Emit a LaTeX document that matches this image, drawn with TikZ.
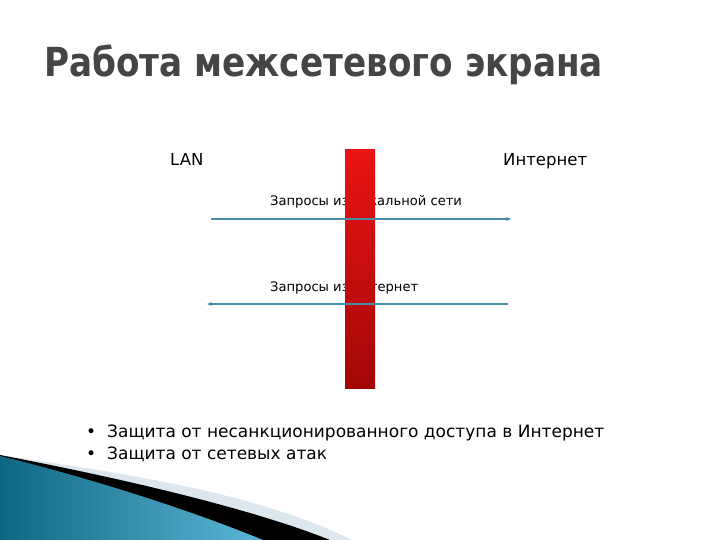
\documentclass[tikz,border=0pt]{standalone}
\usepackage{fontspec}
\usepackage{graphicx}
\setmainfont{DejaVu Sans}
\usetikzlibrary{arrows.meta}
\definecolor{titlegray}{HTML}{454545}
\definecolor{arrowblue}{HTML}{4A8EA6}
\definecolor{wallred}{HTML}{EA1414}
\definecolor{walldark}{HTML}{A20606}
\definecolor{swooshdark}{HTML}{0E6782}
\definecolor{swooshlight}{HTML}{5CB6D6}
\definecolor{swooshpale}{HTML}{DDE8EE}
\tikzset{
  label text/.style={anchor=base west,inner sep=0,font=\fontsize{16.5}{20}\selectfont},
  bullet text/.style={anchor=base west,inner sep=0,font=\fontsize{17}{20}\selectfont},
  query text/.style={anchor=base west,inner sep=0,font=\fontsize{13.1}{15}\selectfont},
  flow/.style={color=arrowblue,line width=1.2pt,-{Stealth[length=5pt,width=4pt]}}
}
\begin{document}
\begin{tikzpicture}[x=1pt,y=-1pt]
  \useasboundingbox (0,0) rectangle (720,540);
  \fill[white] (0,0) rectangle (720,540);
  % title
  \node[anchor=base west,inner sep=0,color=titlegray,
        font=\fontsize{40}{48}\selectfont\bfseries] (title) at (44,77)
        {\scalebox{0.856}[1]{Работа межсетевого экрана}};
  % sides
  \node[label text] (lan) at (170,166) {LAN};
  \node[label text] (inet) at (503,166) {Интернет};
  % request labels (behind the wall)
  \node[query text] (outq) at (270,206) {Запросы из локальной сети};
  \node[query text] (inq) at (270,291) {Запросы из интернет};
  % the wall
  \shade[top color=wallred,bottom color=walldark] (345,150) rectangle (375,388);
  % request arrows
  \coordinate (outa) at (211,219);
  \coordinate (outb) at (511,219);
  \coordinate (ina) at (508,304);
  \coordinate (inb) at (207,304);
  \draw[flow] (outa) -- (outb);
  \draw[flow] (ina) -- (inb);
  % bullets
  \node[bullet text] (b1) at (86,437) {•\hspace{11pt}Защита от несанкционированного доступа в Интернет};
  \node[bullet text] (b2) at (86,459) {•\hspace{11pt}Защита от сетевых атак};
  % corner swoosh
  \fill[swooshpale] (0,455) .. controls (130,474) and (260,494) .. (352,540) -- (0,540) -- cycle;
  \fill[black] (0,455) .. controls (120,478) and (250,508) .. (330,540) -- (0,540) -- cycle;
  \shade[shading angle=60,left color=swooshdark,right color=swooshlight]
    (0,456) .. controls (90,478) and (190,510) .. (263,540) -- (0,540) -- cycle;
\end{tikzpicture}
\end{document}
